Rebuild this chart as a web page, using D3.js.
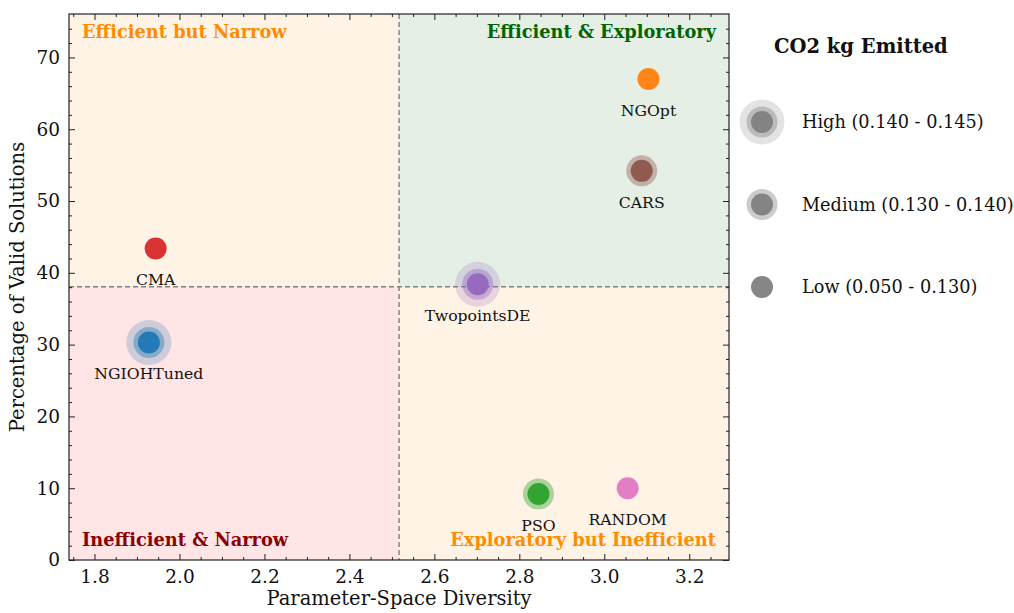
<!DOCTYPE html>
<html>
<head>
<meta charset="utf-8">
<script src="https://cdn.jsdelivr.net/npm/d3@7"></script>
<style>
  html, body { margin: 0; padding: 0; background: #ffffff; }
  svg { display: block; font-family: "DejaVu Serif", serif; }
</style>
</head>
<body>
<svg id="chart" width="1014" height="613"></svg>
<script>
// Optimizers: diversity vs. valid-solution rate, sized by CO2 class
const methods   = ["CMA", "NGOpt", "CARS", "TwopointsDE", "NGIOHTuned", "PSO", "RANDOM"];
const diversity = [1.944, 3.104, 3.088, 2.702, 1.928, 2.845, 3.055];
const validPct  = [43.4, 67.0, 54.2, 38.4, 30.3, 9.2, 10.0];
const co2Level  = ["Low", "Low", "Medium", "High", "High", "Medium", "Low"];
const colors    = ["#d62728", "#ff7f0e", "#8c564b", "#9467bd", "#1f77b4", "#2ca02c", "#e377c2"];

// Quadrant split values
const xSplit = 2.517;
const ySplit = 38.06;

const xTicks = [1.8, 2.0, 2.2, 2.4, 2.6, 2.8, 3.0, 3.2];
const yTicks = [0, 10, 20, 30, 40, 50, 60, 70];

const legendLevels = ["High", "Medium", "Low"];
const legendLabels = ["High (0.140 - 0.145)", "Medium (0.130 - 0.140)", "Low (0.050 - 0.130)"];

const quadrantNames  = ["Efficient but Narrow", "Efficient & Exploratory", "Inefficient & Narrow", "Exploratory but Inefficient"];
const quadrantFills  = ["#ff8c00", "#006400", "#ff0000", "#ff8c00"];
const quadrantColors = ["#ff8c00", "#006400", "#8b0000", "#ff8c00"];

const svg = d3.select("#chart");
const L = 69, R = 729, T = 14, B = 560;

const x = d3.scaleLinear().domain([1.74, 3.2935]).range([L, R]);
const y = d3.scaleLinear().domain([0, 76.05]).range([B, T]);

const data = methods.map((m, i) => ({
  name: m, x: diversity[i], y: validPct[i], level: co2Level[i], color: colors[i]
}));

// Quadrant backgrounds
const [x0, x1] = x.domain();
const [y0, y1] = y.domain();
const quads = [
  { xa: x0, xb: xSplit, ya: ySplit, yb: y1 },
  { xa: xSplit, xb: x1, ya: ySplit, yb: y1 },
  { xa: x0, xb: xSplit, ya: y0, yb: ySplit },
  { xa: xSplit, xb: x1, ya: y0, yb: ySplit }
];
svg.append("g").selectAll("rect").data(quads).join("rect")
  .attr("x", d => x(d.xa)).attr("width", d => x(d.xb) - x(d.xa))
  .attr("y", d => y(d.yb)).attr("height", d => y(d.ya) - y(d.yb))
  .attr("fill", (d, i) => quadrantFills[i]).attr("fill-opacity", 0.1);

// Split lines
svg.append("line")
  .attr("x1", x(xSplit)).attr("x2", x(xSplit)).attr("y1", T).attr("y2", B)
  .attr("stroke", "#808080").attr("stroke-width", 1.4).attr("stroke-dasharray", "5,3");
svg.append("line")
  .attr("x1", L).attr("x2", R).attr("y1", y(ySplit)).attr("y2", y(ySplit))
  .attr("stroke", "#808080").attr("stroke-width", 1.4).attr("stroke-dasharray", "5,3");

// Marker glyph: core dot plus translucent halos for higher emissions
function drawMarker(g, level, color) {
  if (level === "High") {
    g.append("circle").attr("r", 22.5).attr("fill", color).attr("fill-opacity", 0.22);
  }
  if (level === "High" || level === "Medium") {
    g.append("circle").attr("r", 15.5).attr("fill", color).attr("fill-opacity", 0.4);
  }
  g.append("circle").attr("r", 11).attr("fill", color).attr("fill-opacity", 0.95);
}

const pts = svg.append("g").selectAll("g").data(data).join("g")
  .attr("transform", d => `translate(${x(d.x)},${y(d.y)})`);
pts.each(function(d) { drawMarker(d3.select(this), d.level, d.color); });

svg.append("g").selectAll("text").data(data).join("text")
  .attr("x", d => x(d.x)).attr("y", d => y(d.y) + 37)
  .attr("text-anchor", "middle").attr("font-size", 15.7).attr("fill", "#111")
  .text(d => d.name);

// Quadrant captions
const caps = [
  { tx: L + 13, ty: T + 24, anchor: "start" },
  { tx: R - 13, ty: T + 24, anchor: "end" },
  { tx: L + 13, ty: B - 14, anchor: "start" },
  { tx: R - 13, ty: B - 14, anchor: "end" }
];
svg.append("g").selectAll("text").data(caps).join("text")
  .attr("x", d => d.tx).attr("y", d => d.ty).attr("text-anchor", d => d.anchor)
  .attr("font-size", 17.8).attr("font-weight", "bold")
  .attr("fill", (d, i) => quadrantColors[i])
  .text((d, i) => quadrantNames[i]);

// Axes with inward ticks on all sides
const tickCol = "#222";
const xMinor = d3.range(1.75, 3.2935, 0.05).filter(v => Math.abs(Math.round(v / 0.2) * 0.2 - v) > 1e-6);
const yMinor = d3.range(2, 76, 2).filter(v => v % 10 !== 0);

function addAxis(axisGen, transform) {
  const g = svg.append("g").attr("transform", transform).call(axisGen);
  g.select(".domain").remove();
  g.selectAll("line").attr("stroke", tickCol).attr("stroke-width", 1);
  return g;
}
// bottom
addAxis(d3.axisBottom(x).tickValues(xTicks).tickSize(-6).tickPadding(10).tickFormat(d3.format(".1f")), `translate(0,${B})`)
  .selectAll("text").attr("font-size", 18.5).attr("font-family", "DejaVu Serif").attr("fill", "#111");
addAxis(d3.axisBottom(x).tickValues(xMinor).tickSize(-3).tickFormat(""), `translate(0,${B})`);
// top
addAxis(d3.axisTop(x).tickValues(xTicks).tickSize(-6).tickFormat(""), `translate(0,${T})`);
addAxis(d3.axisTop(x).tickValues(xMinor).tickSize(-3).tickFormat(""), `translate(0,${T})`);
// left
addAxis(d3.axisLeft(y).tickValues(yTicks).tickSize(-6).tickPadding(9), `translate(${L},0)`)
  .selectAll("text").attr("font-size", 18.5).attr("font-family", "DejaVu Serif").attr("fill", "#111");
addAxis(d3.axisLeft(y).tickValues(yMinor).tickSize(-3).tickFormat(""), `translate(${L},0)`);
// right
addAxis(d3.axisRight(y).tickValues(yTicks).tickSize(-6).tickFormat(""), `translate(${R},0)`);
addAxis(d3.axisRight(y).tickValues(yMinor).tickSize(-3).tickFormat(""), `translate(${R},0)`);

// Frame
svg.append("rect").attr("x", L).attr("y", T).attr("width", R - L).attr("height", B - T)
  .attr("fill", "none").attr("stroke", "#222").attr("stroke-width", 1.2);

// Axis titles
svg.append("text").attr("x", (L + R) / 2).attr("y", 605).attr("text-anchor", "middle")
  .attr("font-size", 19.5).attr("fill", "#111").text("Parameter-Space Diversity");
svg.append("text").attr("transform", `translate(24,${(T + B) / 2}) rotate(-90)`)
  .attr("text-anchor", "middle").attr("font-size", 19.5).attr("fill", "#111")
  .text("Percentage of Valid Solutions");

// Legend
const lg = svg.append("g");
lg.append("text").attr("x", 774).attr("y", 53).attr("font-size", 19.5).attr("font-weight", "bold")
  .attr("fill", "#111").text("CO2 kg Emitted");
const legendY = d3.scalePoint().domain(legendLevels).range([122, 287]);
legendLevels.forEach((lev, i) => {
  const g = lg.append("g").attr("transform", `translate(762,${legendY(lev)})`);
  drawMarker(g, lev, "#808080");
  lg.append("text").attr("x", 802).attr("y", legendY(lev) + 6).attr("font-size", 17.7)
    .attr("fill", "#111").text(legendLabels[i]);
});
</script>
</body>
</html>
